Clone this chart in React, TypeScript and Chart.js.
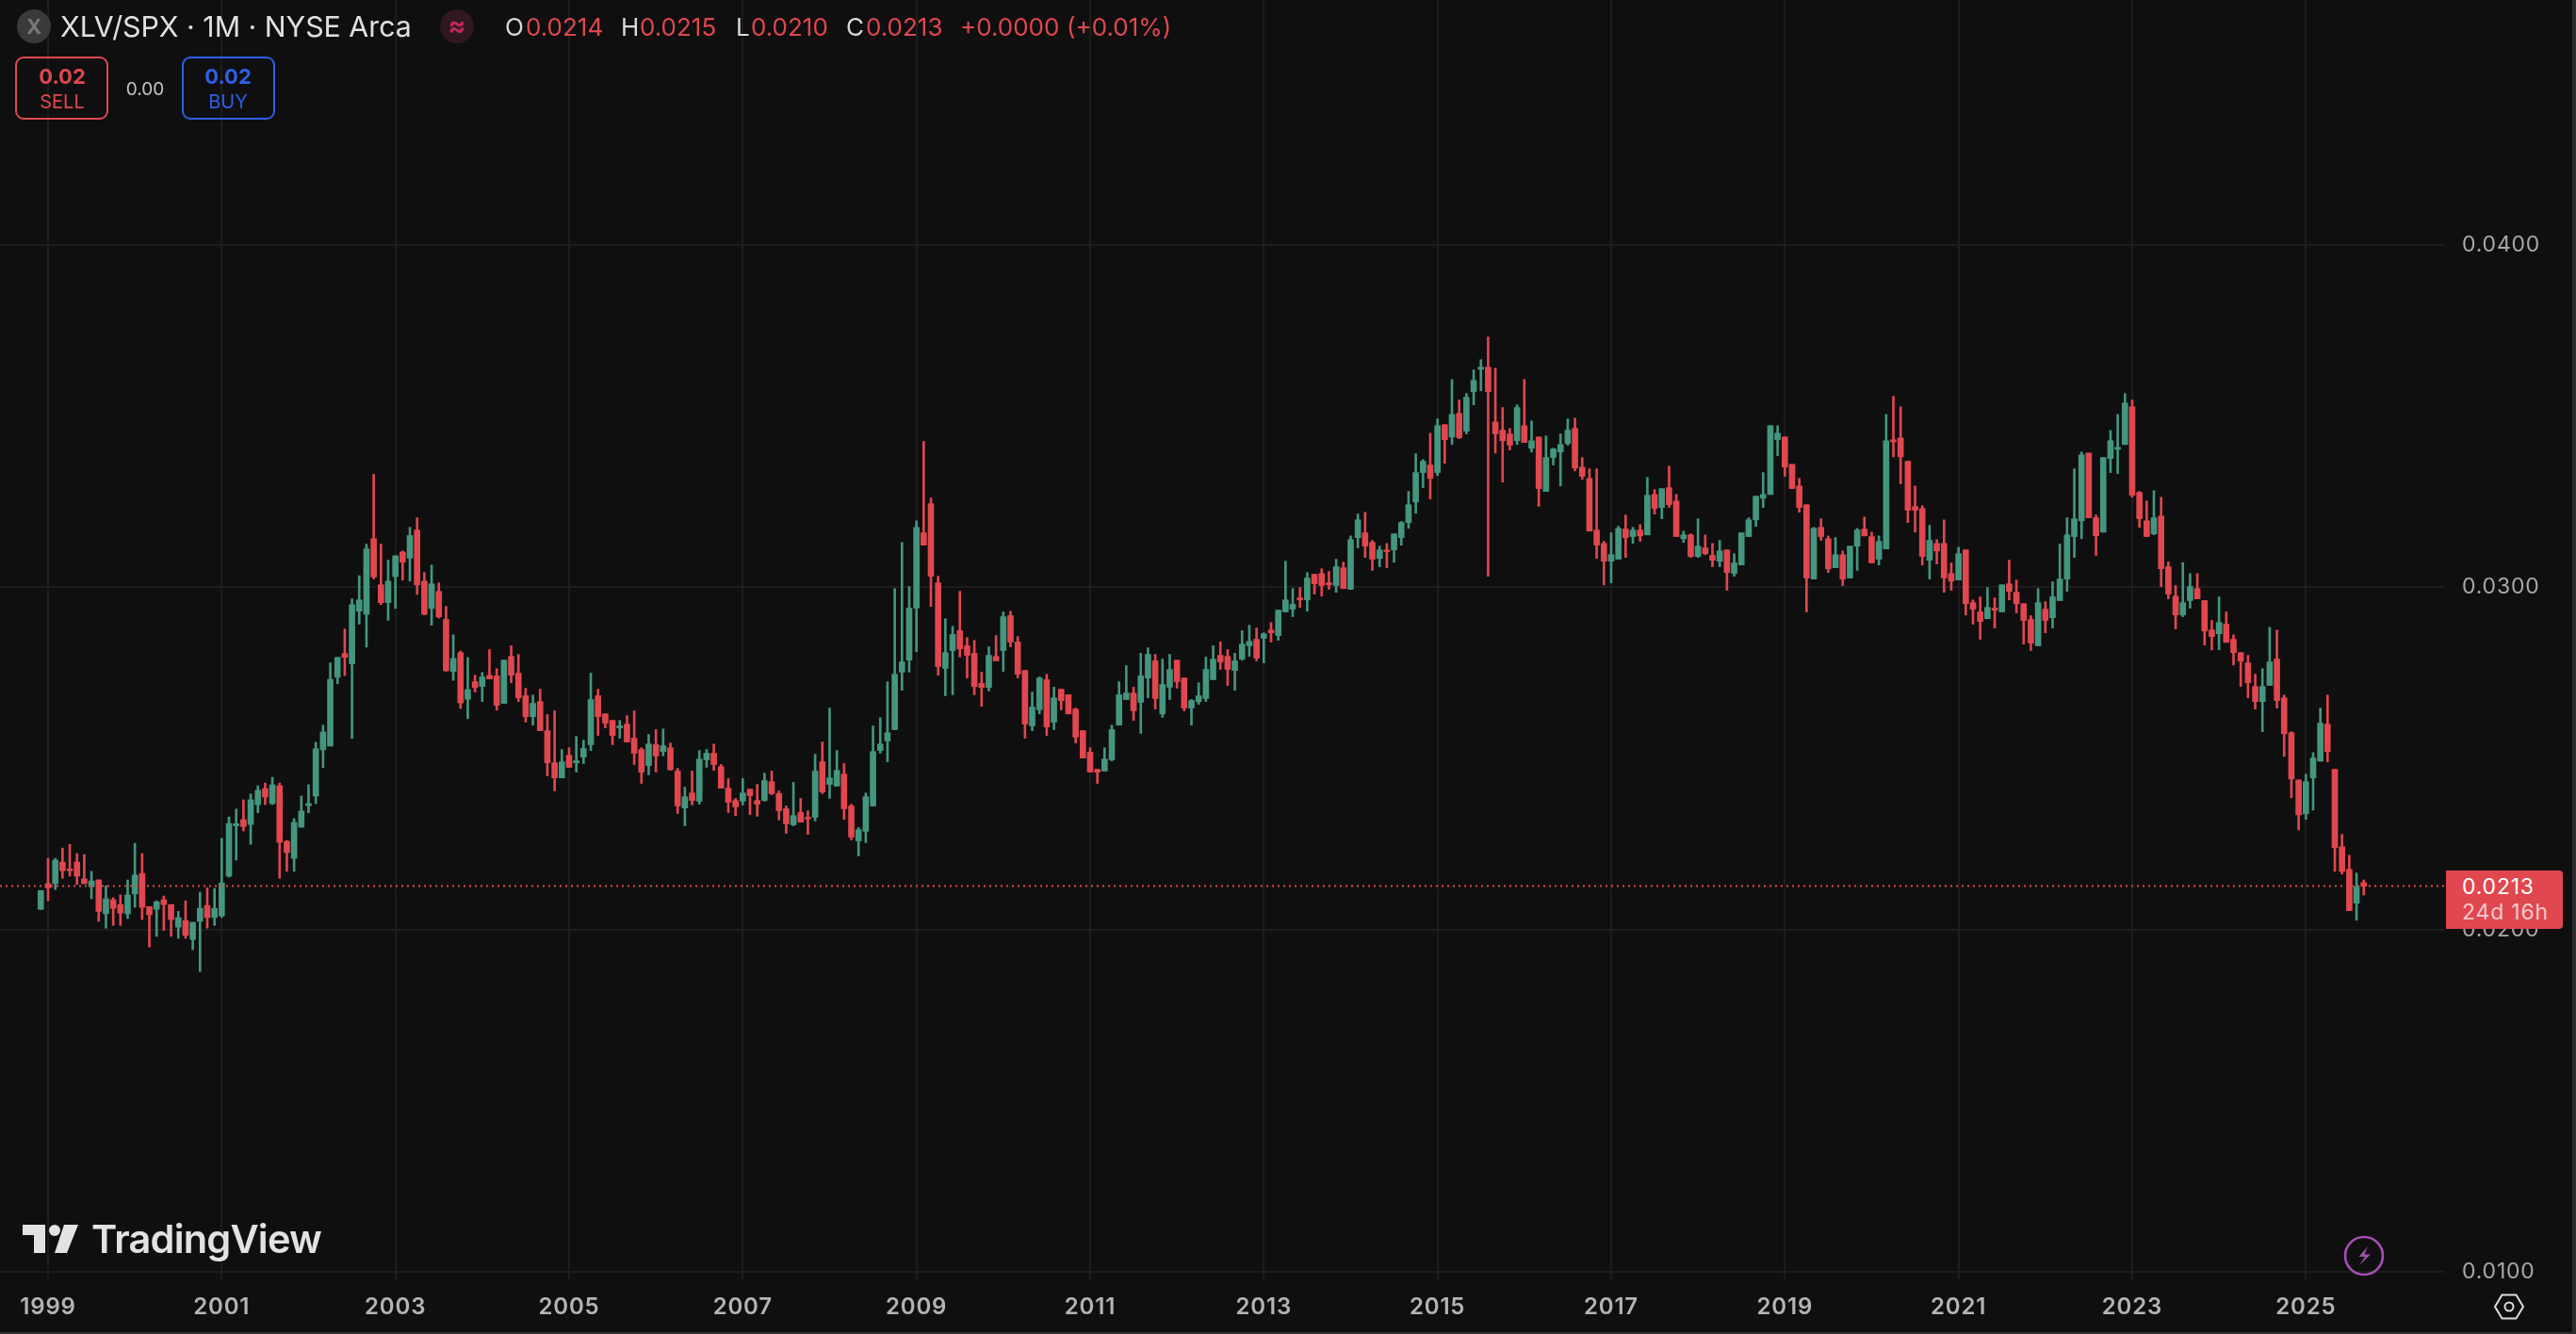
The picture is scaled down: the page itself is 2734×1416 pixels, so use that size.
import React, { useEffect, useRef } from "react";
import { Chart, registerables } from "chart.js";

Chart.register(...registerables);

// Monthly candles, Dec 1998 to Sep 2025, in units of 0.00001 (XLV/SPX ratio).
const UNIT = 0.00001;
const opens = [2059,
2134,2134,2197,2177,2197,2148,2125,2145,2046,2087,2073,2046,
2104,2164,2067,2059,2087,2073,2007,2026,1971,2024,2070,2035,
2040,2156,2303,2321,2307,2365,2412,2368,2420,2258,2208,2299,
2362,2390,2525,2536,2737,2806,2776,2930,2921,3142,3007,2955,
3031,3103,3085,3167,3018,2938,2988,2906,2754,2809,2673,2724,
2710,2743,2741,2661,2798,2749,2683,2622,2666,2581,2487,2443,
2509,2487,2504,2540,2683,2630,2611,2589,2600,2559,2526,2479,
2540,2520,2531,2463,2355,2399,2375,2496,2515,2476,2413,2377,
2375,2410,2377,2377,2432,2397,2353,2306,2342,2328,2328,2490,
2424,2419,2454,2361,2259,2287,2361,2523,2551,2584,2752,2787,
2939,3159,3244,3013,2763,2815,2873,2829,2807,2719,2707,2798,
2815,2917,2840,2757,2595,2642,2730,2606,2702,2686,2644,2581,
2518,2468,2463,2496,2597,2672,2691,2664,2735,2785,2630,2708,
2787,2735,2647,2666,2675,2730,2801,2798,2757,2790,2829,2848,
2851,2875,2859,2928,2936,2969,2963,3038,3040,3013,3005,3057,
2994,3145,3159,3131,3084,3109,3109,3145,3189,3249,3335,3357,
3335,3475,3439,3508,3456,3571,3637,3643,3483,3459,3448,3428,
3472,3406,3439,3280,3379,3395,3420,3464,3351,3318,3167,3128,
3076,3082,3170,3148,3167,3153,3271,3233,3291,3252,3142,3153,
3090,3115,3093,3076,3109,3040,3065,3148,3197,3260,3271,3431,
3439,3359,3296,3241,3024,3175,3142,3057,3095,3027,3120,3170,
3148,3082,3112,3431,3436,3368,3236,3230,3079,3128,3128,3040,
3021,3109,2955,2928,2908,2939,2928,3010,2985,2952,2906,2829,
2936,2911,2961,3024,3148,3194,3392,3203,3161,3376,3403,3417,
3527,3277,3194,3156,3208,3060,2974,2919,2961,2996,2961,2875,
2864,2892,2848,2809,2779,2710,2666,2713,2790,2677,2575,2437,
2338,2443,2492,2600,2468,2242,2176,2077,2137];
const highs = [2114,
2208,2208,2238,2249,2222,2219,2170,2145,2128,2093,2101,2145,
2252,2222,2067,2084,2098,2073,2053,2084,2021,2109,2122,2120,
2266,2329,2352,2379,2396,2420,2428,2445,2428,2260,2324,2390,
2423,2547,2597,2779,2795,2878,2966,3034,3126,3330,3126,3079,
3092,3106,3175,3203,3043,3065,3013,2944,2861,2814,2795,2743,
2751,2818,2762,2787,2829,2804,2705,2685,2702,2628,2639,2526,
2531,2564,2553,2749,2702,2630,2611,2611,2625,2639,2531,2570,
2584,2586,2545,2471,2416,2463,2523,2526,2542,2482,2441,2383,
2441,2410,2424,2457,2463,2405,2361,2430,2383,2347,2512,2548,
2647,2523,2485,2366,2298,2399,2595,2619,2724,2996,3131,3002,
3194,3426,3261,3032,2908,2886,2988,2853,2845,2752,2826,2859,
2928,2930,2856,2757,2694,2738,2746,2708,2702,2686,2647,2581,
2531,2468,2531,2597,2724,2771,2708,2807,2823,2804,2790,2804,
2787,2735,2672,2721,2796,2829,2840,2818,2807,2873,2889,2881,
2867,2897,2933,3076,2996,2999,3043,3038,3054,3046,3082,3073,
3150,3214,3219,3137,3120,3128,3156,3192,3280,3390,3373,3450,
3492,3475,3607,3547,3566,3635,3665,3731,3640,3525,3464,3533,
3607,3486,3439,3442,3406,3448,3492,3494,3379,3346,3346,3134,
3159,3178,3211,3175,3183,3321,3285,3288,3354,3271,3164,3156,
3200,3153,3128,3137,3109,3098,3159,3203,3266,3335,3472,3472,
3439,3359,3318,3241,3175,3200,3150,3145,3106,3120,3172,3205,
3161,3150,3505,3558,3527,3368,3296,3238,3181,3139,3197,3071,
3117,3109,2963,2972,2999,2969,3007,3079,3021,2952,2917,2996,
2958,3016,3126,3203,3346,3395,3392,3211,3379,3458,3505,3566,
3547,3280,3252,3282,3263,3074,3005,3072,3040,3040,2961,2903,
2972,2928,2861,2809,2801,2746,2762,2883,2875,2685,2578,2437,
2454,2517,2647,2685,2468,2278,2217,2165,2145];
const lows = [2059,
2084,2117,2150,2156,2131,2134,2090,2024,2004,2012,2012,2032,
2065,2029,1949,1980,1998,1980,1974,1974,1941,1877,2004,2012,
2035,2153,2203,2288,2249,2341,2365,2365,2150,2170,2170,2299,
2341,2368,2473,2536,2718,2742,2558,2892,2825,3024,2949,2903,
2938,3021,3018,2979,2919,2889,2910,2754,2728,2646,2616,2694,
2666,2732,2641,2661,2721,2666,2606,2597,2581,2449,2405,2443,
2474,2460,2485,2523,2567,2589,2540,2559,2548,2482,2427,2452,
2460,2507,2465,2339,2303,2364,2366,2474,2465,2413,2342,2333,
2364,2336,2331,2375,2394,2320,2281,2303,2314,2278,2317,2397,
2383,2419,2322,2262,2215,2254,2361,2515,2490,2584,2699,2752,
2812,3123,2944,2743,2683,2686,2796,2735,2686,2652,2697,2785,
2754,2826,2735,2559,2581,2630,2567,2584,2642,2630,2545,2501,
2460,2427,2463,2493,2597,2672,2611,2573,2677,2644,2620,2672,
2705,2639,2597,2658,2666,2730,2760,2713,2699,2787,2798,2785,
2779,2840,2845,2928,2914,2941,2930,2980,2974,2994,2985,2996,
2994,3115,3087,3049,3060,3057,3073,3123,3172,3216,3291,3258,
3326,3362,3417,3434,3448,3533,3574,3032,3392,3307,3401,3417,
3423,3395,3236,3280,3357,3296,3415,3340,3315,3164,3084,3007,
3013,3082,3087,3128,3134,3153,3214,3200,3233,3148,3131,3087,
3087,3095,3060,3060,2991,3032,3065,3148,3178,3233,3271,3384,
3324,3288,3219,2928,3024,3137,3043,3057,3005,3027,3049,3150,
3071,3065,3112,3381,3302,3189,3161,3065,3024,3068,2985,2991,
3021,2919,2892,2848,2908,2881,2928,2963,2925,2834,2815,2829,
2867,2881,2961,2988,3087,3142,3203,3093,3161,3335,3332,3417,
3263,3175,3148,3153,3002,2966,2878,2914,2939,2966,2831,2817,
2817,2839,2773,2710,2677,2644,2578,2713,2647,2506,2385,2291,
2322,2349,2492,2490,2170,2162,2055,2027,2101];
const closes = [2114,
2122,2203,2172,2172,2156,2134,2142,2053,2090,2062,2048,2101,
2159,2065,2043,2081,2073,2029,2035,1983,2021,2062,2035,2062,
2136,2310,2309,2301,2379,2407,2387,2423,2255,2225,2313,2346,
2368,2528,2577,2731,2795,2795,2949,2963,3112,3030,2955,3018,
3092,3073,3151,3007,2921,3010,2913,2756,2792,2662,2701,2707,
2738,2732,2655,2787,2743,2677,2622,2661,2581,2487,2443,2490,
2474,2493,2529,2672,2622,2603,2567,2595,2548,2515,2460,2542,
2507,2537,2467,2361,2388,2377,2498,2515,2482,2413,2372,2358,
2399,2391,2366,2435,2397,2347,2309,2333,2314,2323,2463,2402,
2443,2465,2353,2270,2292,2388,2520,2542,2575,2746,2782,2939,
3175,3123,3032,2768,2809,2862,2820,2801,2710,2707,2801,2785,
2914,2840,2746,2600,2650,2735,2592,2677,2669,2630,2562,2501,
2460,2460,2498,2584,2686,2691,2639,2741,2804,2675,2716,2760,
2724,2647,2669,2683,2760,2790,2782,2760,2785,2834,2842,2793,
2864,2867,2933,2963,2950,2963,3027,3010,3005,3007,3060,2996,
3139,3197,3120,3082,3109,3104,3156,3189,3241,3335,3368,3318,
3472,3431,3505,3437,3555,3604,3643,3571,3448,3428,3415,3525,
3423,3428,3288,3379,3404,3417,3459,3348,3324,3164,3123,3076,
3095,3172,3145,3167,3150,3269,3230,3288,3241,3148,3153,3090,
3120,3098,3079,3106,3043,3071,3159,3197,3266,3271,3472,3450,
3351,3288,3233,3027,3172,3148,3054,3095,3024,3120,3167,3150,
3071,3134,3428,3425,3381,3225,3225,3090,3137,3106,3027,3018,
3098,2952,2936,2900,2941,2933,3007,2988,2952,2903,2837,2955,
2903,2972,3024,3153,3200,3387,3203,3150,3379,3428,3409,3538,
3269,3200,3148,3203,3054,2980,2919,2955,3002,2966,2872,2856,
2897,2839,2809,2784,2721,2666,2710,2782,2669,2572,2440,2335,
2432,2501,2603,2520,2239,2170,2055,2126,2126];

const yearLabels = [1999,2001,2003,2005,2007,2009,2011,2013,2015,2017,2019,2021,2023,2025];
const priceTicks = [0.01, 0.02, 0.03, 0.04];
const lastPrice = 0.02127;

const titleText = "XLV/SPX · 1M · NYSE Arca";
const ohlcLetters = ["O", "H", "L", "C"];
const ohlcValues = ["0.0214", "0.0215", "0.0210", "0.0213"];
const changeText = "+0.0000";
const changePctText = "(+0.01%)";

const RED = "#e0474f";
const GREEN = "#44967f";
const BG = "#0f0f0f";
const GRID = "#1d1d1d";
const BLUE = "#2f5fe6";
const FONT = "Inter, sans-serif";

// x axis is measured in months since Jan 1999
const X_MIN = -6.64;
const X_MAX = 331.1;
const Y_MIN = 0.00978;
const Y_MAX = 0.047156;

function Txt(props: { x: number; y: number; size: number; color: string; weight?: number; center?: boolean; spacing?: number; children: any }) {
  const { x, y, size, color, weight = 400, center, spacing = 0, children } = props;
  return (
    <div
      style={{
        position: "absolute",
        left: x,
        top: y,
        transform: center ? "translate(-50%,-50%)" : "translateY(-50%)",
        fontFamily: FONT,
        fontSize: size,
        fontWeight: weight,
        color,
        letterSpacing: spacing,
        whiteSpace: "nowrap",
        lineHeight: 1,
      }}
    >
      {children}
    </div>
  );
}

function noPadding(axis: any) {
  axis.paddingTop = 0;
  axis.paddingBottom = 0;
  axis.paddingLeft = 0;
  axis.paddingRight = 0;
}

export default function App() {
  const ref = useRef<HTMLCanvasElement | null>(null);
  useEffect(() => {
    document.body.style.margin = "0";
    document.body.style.overflow = "hidden";
    document.body.style.background = BG;
    const candleColor = opens.map((o, i) => (closes[i] >= o ? GREEN : RED));
    const chart = new Chart(ref.current as HTMLCanvasElement, {
      type: "bar",
      data: {
        datasets: [
          {
            type: "line",
            data: [{ x: X_MIN, y: lastPrice }, { x: X_MAX, y: lastPrice }],
            borderColor: RED,
            borderWidth: 2,
            borderDash: [2, 4],
            pointRadius: 0,
            order: 0,
          },
          {
            data: opens.map((o, i) => ({ x: i - 1, y: [o * UNIT, closes[i] * UNIT] })),
            backgroundColor: candleColor,
            borderWidth: 0,
            borderSkipped: false,
            grouped: false,
            barThickness: 6,
            maxBarThickness: 6,
            barPercentage: 1,
            categoryPercentage: 1,
            order: 1,
          },
          {
            data: lows.map((l, i) => ({ x: i - 1, y: [l * UNIT, highs[i] * UNIT] })),
            backgroundColor: candleColor,
            borderWidth: 0,
            borderSkipped: false,
            grouped: false,
            barThickness: 2,
            maxBarThickness: 2,
            barPercentage: 1,
            categoryPercentage: 1,
            order: 2,
          },
        ] as any,
      },
      options: {
        responsive: false,
        animation: false,
        devicePixelRatio: 1,
        events: [],
        layout: { padding: 0 },
        plugins: { legend: { display: false }, tooltip: { enabled: false }, title: { display: false } },
        scales: {
          x: {
            type: "linear",
            offset: false,
            min: X_MIN,
            max: X_MAX,
            backgroundColor: BG,
            border: { display: false },
            grid: { color: GRID, lineWidth: 2, drawTicks: false, offset: false },
            afterBuildTicks: (axis: any) => {
              axis.ticks = yearLabels.map((y) => ({ value: (y - 1999) * 12 }));
            },
            afterFit: (axis: any) => {
              axis.height = 58;
              noPadding(axis);
            },
            ticks: {
              autoSkip: false,
              maxRotation: 0,
              padding: 15,
              color: "#b4b4b4",
              font: { family: FONT, size: 24, weight: "600" },
              callback: (v: any) => String(1999 + v / 12),
            },
          },
          y: {
            type: "linear",
            position: "right",
            min: Y_MIN,
            max: Y_MAX,
            border: { display: false },
            grid: { color: GRID, lineWidth: 2, drawTicks: false },
            afterBuildTicks: (axis: any) => {
              axis.ticks = priceTicks.map((v) => ({ value: v }));
            },
            afterFit: (axis: any) => {
              axis.width = 140;
              noPadding(axis);
            },
            ticks: {
              z: -2,
              padding: 19,
              color: "#a8a8a8",
              font: { family: FONT, size: 23, weight: "400" },
              callback: (v: any) => Number(v).toFixed(4),
            },
          },
        },
      } as any,
      plugins: [
        {
          id: "tracking",
          beforeDraw: (c: any) => {
            c.ctx.letterSpacing = "0.8px";
          },
        },
      ],
    });
    return () => chart.destroy();
  }, []);

  const ohlcLetterX = [536, 659, 781, 898];
  const ohlcValueX = [558, 679, 797, 919];
  return (
    <div style={{ position: "relative", width: 2734, height: 1416, background: BG, overflow: "hidden" }}>
      <canvas ref={ref} width={2734} height={1416} style={{ position: "absolute", left: 0, top: 0, width: 2734, height: 1416 }} />

      {/* header */}
      <div style={{ position: "absolute", left: 18, top: 10, width: 36, height: 36, borderRadius: 18, background: "#3a3a3a" }} />
      <Txt x={36} y={28} size={22} color="#777" weight={700} center>X</Txt>
      <Txt x={64} y={28} size={30.3} color="#e0e0e0">{titleText}</Txt>
      <div style={{ position: "absolute", left: 467, top: 10, width: 36, height: 36, borderRadius: 18, background: "#301722" }} />
      <Txt x={485} y={27} size={28} color="#c2255c" weight={700} center>≈</Txt>
      {ohlcLetters.map((l, i) => (
        <React.Fragment key={l}>
          <Txt x={ohlcLetterX[i]} y={29} size={26} color="#d8d8d8">{l}</Txt>
          <Txt x={ohlcValueX[i]} y={29} size={26} color={RED}>{ohlcValues[i]}</Txt>
        </React.Fragment>
      ))}
      <Txt x={1019} y={29} size={26} color={RED}>{changeText}</Txt>
      <Txt x={1132} y={29} size={26} color={RED}>{changePctText}</Txt>

      {/* sell / buy */}
      <div style={{ position: "absolute", left: 16, top: 60, width: 99, height: 67, boxSizing: "border-box", border: `2px solid ${RED}`, borderRadius: 9 }} />
      <Txt x={66} y={81} size={22} color={RED} weight={700} center>0.02</Txt>
      <Txt x={66} y={108} size={20} color={RED} center>SELL</Txt>
      <Txt x={154} y={94} size={19} color="#c4c4c4" center>0.00</Txt>
      <div style={{ position: "absolute", left: 193, top: 60, width: 99, height: 67, boxSizing: "border-box", border: `2px solid ${BLUE}`, borderRadius: 9 }} />
      <Txt x={242} y={81} size={22} color={BLUE} weight={700} center>0.02</Txt>
      <Txt x={242} y={108} size={20} color={BLUE} center>BUY</Txt>

      {/* logo */}
      <svg style={{ position: "absolute", left: 0, top: 1290 }} width={100} height={50}>
        <path d="M24 10 H48 V40 H36 V21 H24 Z" fill="#e2e2e2" />
        <circle cx={58} cy={16} r={6} fill="#e2e2e2" />
        <path d="M68 10 H83 L71 40 H58 Z" fill="#e2e2e2" />
      </svg>
      <Txt x={97} y={1316} size={41.5} color="#e2e2e2" weight={600} spacing={-0.8}>TradingView</Txt>

      {/* last price badge */}
      <div style={{ position: "absolute", left: 2596, top: 924, width: 124, height: 62, background: RED, borderRadius: "0 4px 4px 0" }} />
      <Txt x={2613} y={941} size={23} color="#ffffff" spacing={0.8}>0.0213</Txt>
      <Txt x={2613} y={968} size={23} color="#f6c9cc" spacing={0.8}>24d 16h</Txt>

      {/* bolt */}
      <svg style={{ position: "absolute", left: 2484, top: 1308 }} width={50} height={50}>
        <circle cx={25} cy={25} r={20} fill="none" stroke="#a64fb5" strokeWidth={2.6} />
        <path d="M29 15 L19.5 26 H26 L20 35 L32 23.5 H25.5 Z" fill="#a64fb5" />
      </svg>
      {/* settings */}
      <svg style={{ position: "absolute", left: 2643, top: 1367 }} width={40} height={40}>
        <path d="M5 20 L12.5 7.5 H27.5 L35 20 L27.5 32.5 H12.5 Z" fill="none" stroke="#dddddd" strokeWidth={2} />
        <circle cx={20} cy={20} r={4.5} fill="none" stroke="#dddddd" strokeWidth={2} />
      </svg>

      {/* window edge */}
      <div style={{ position: "absolute", left: 2730, top: 0, width: 4, height: 1416, background: "#2e2e2e" }} />
      <div style={{ position: "absolute", left: 0, top: 1414, width: 2734, height: 2, background: "#2e2e2e" }} />
    </div>
  );
}
